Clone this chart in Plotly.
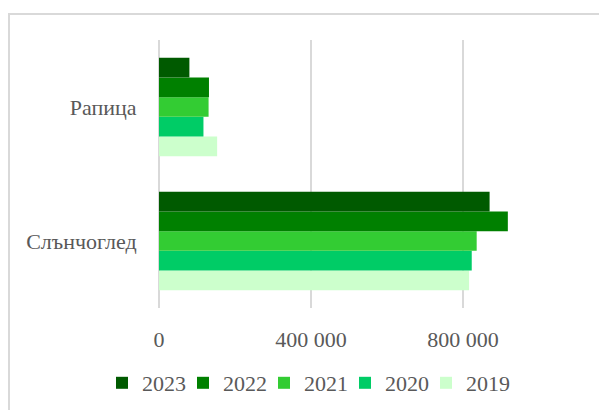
import plotly.graph_objects as go

categories = ["Слънчоглед", "Рапица"]
years = ["2019", "2020", "2021", "2022", "2023"]
values_2019 = [816000, 153000]
values_2020 = [823000, 117000]
values_2021 = [836000, 130500]
values_2022 = [918000, 131500]
values_2023 = [870000, 80000]
series = [values_2019, values_2020, values_2021, values_2022, values_2023]
colors = ["#ccffcc", "#00cc66", "#33cc33", "#008000", "#005a00"]
tick_vals = [0, 400000, 800000]
tick_text = ["0", "400 000", "800 000"]

W, H = 607, 410
OFF = 8  # page body margin offset
ml = 159 - OFF
mt = 40 - OFF
plot_bottom = 308 - OFF
mb = H - plot_bottom
mr = 0
pw, ph = W - ml - mr, H - mt - mb

FONT = "Liberation Serif"
GREY = "#595959"
FS = 22

fig = go.Figure()
# invisible spacer entry so the last legend label is not clipped
fig.add_trace(go.Scatter(x=[None], y=[categories[0]], mode="markers", name=" ",
                         marker=dict(color="rgba(0,0,0,0)", size=1),
                         hoverinfo="skip"))
for yr, vals, c in zip(years, series, colors):
    fig.add_trace(go.Bar(
        y=categories, x=vals, name=yr, orientation="h",
        marker=dict(color=c, line=dict(width=0)),
    ))

def px_x(px):  # page pixel -> paper fraction
    return (px - OFF - ml) / pw

def px_y(py):
    return (plot_bottom - (py - OFF)) / ph

fig.add_shape(type="rect", xref="paper", yref="paper",
              x0=px_x(9), x1=px_x(700), y0=px_y(500), y1=px_y(14),
              line=dict(color="#d9d9d9", width=2), layer="below")

fig.update_layout(
    width=W, height=H,
    margin=dict(l=ml, r=mr, t=mt, b=mb, pad=0),
    barmode="group", bargap=0.265, bargroupgap=0,
    plot_bgcolor="white", paper_bgcolor="white",
    font=dict(family=FONT, size=FS, color=GREY),
    legend=dict(orientation="h", traceorder="reversed",
                x=px_x(102), xanchor="left",
                y=px_y(383), yanchor="middle",
                font=dict(family=FONT, size=FS, color=GREY),
                itemwidth=30, entrywidth=36, entrywidthmode="pixels",
                bgcolor="rgba(0,0,0,0)"),
    xaxis=dict(type="linear", range=[0, pw / 152 * 400000],
               tickvals=tick_vals, ticktext=tick_text,
               showgrid=True, gridcolor="#d9d9d9", gridwidth=2,
               zeroline=True, zerolinecolor="#d9d9d9", zerolinewidth=2,
               showline=False,
               ticks="outside", ticklen=12, tickcolor="rgba(0,0,0,0)",
               tickfont=dict(family=FONT, size=FS, color=GREY)),
    yaxis=dict(type="category", categoryorder="array", categoryarray=categories,
               range=[-0.5, 1.5],
               showgrid=False, zeroline=False, showline=False,
               ticks="outside", ticklen=17, tickcolor="rgba(0,0,0,0)",
               tickfont=dict(family=FONT, size=FS, color=GREY)),
    showlegend=True,
)

fig.write_html("out.html")
